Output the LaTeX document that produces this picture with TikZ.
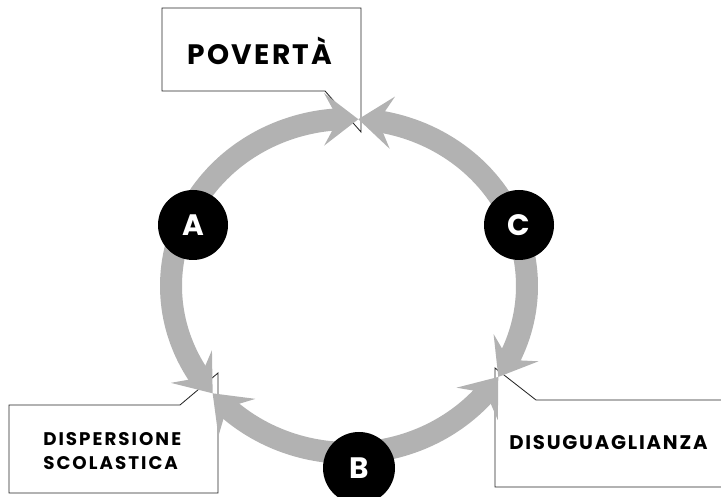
\documentclass[tikz,border=0pt]{standalone}
\usepackage{fontspec}
\setsansfont{Poppins}
\usepackage{tikz}
\usetikzlibrary{arrows.meta,bending}
\definecolor{bandgrau}{RGB}{178,178,178}

\begin{document}
\begin{tikzpicture}[>={Stealth[length=0.85cm,width=1.3cm,inset=0.35cm]},
    band/.style={->, line width=0.55cm, draw=bandgrau},
    buchstabe/.style={circle, fill=black, text=white, minimum size=1.75cm, inner sep=0pt, font=\sffamily\bfseries\fontsize{21}{21}\selectfont},
    blase/.style={draw=black!85, fill=white, line width=0.6pt},
    titel/.style={font=\sffamily\bfseries\fontsize{20}{20}\selectfont\addfontfeatures{LetterSpace=8}},
    klein/.style={font=\sffamily\bfseries\fontsize{13}{17.5}\selectfont\addfontfeatures{LetterSpace=11}, align=left, inner sep=0pt}]

    \useasboundingbox (0,0) rectangle (18.025,12.425);

    % Sprechblasen
    \draw[blase] (4.05,12.225) -- (9.025,12.225) -- (9.025,9.125) -- (8.125,10.15) -- (4.05,10.15) -- cycle;
    \draw[blase] (0.225,2.3) -- (4.5,2.3) -- (5.45,3.1) -- (5.45,0.1) -- (0.225,0.1) -- cycle;
    \draw[blase] (12.375,3.225) -- (13.4,2.425) -- (18.5,2.425) -- (18.5,0.25) -- (12.375,0.25) -- cycle;
    \node (poverta) at (6.5,11.15) [titel] {POVERTÀ};
    \node (dispersione) at (1.075,1.15) [klein, anchor=west] {DISPERSIONE\\SCOLASTICA};
    \node (disuguaglianza) at (12.725,1.35) [klein, anchor=west, font=\sffamily\bfseries\fontsize{14}{14}\selectfont\addfontfeatures{LetterSpace=9}] {DISUGUAGLIANZA};

    % Kreis (Mittelpunkt und Treffpunkte der Pfeile)
    \coordinate (M) at (8.725,5.275);
    \coordinate (oben) at ([shift={(87:4.45 and 4.175)}]M);
    \coordinate (links) at ([shift={(220:4.45 and 4.175)}]M);
    \coordinate (rechts) at ([shift={(327:4.45 and 4.175)}]M);

    % Pfeile
    \draw[band] ([shift={(157:4.45 and 4.175)}]M) arc[start angle=157, end angle=87, x radius=4.45, y radius=4.175];
    \draw[band] ([shift={(157:4.45 and 4.175)}]M) arc[start angle=157, end angle=220, x radius=4.45, y radius=4.175];
    \draw[band] ([shift={(20:4.45 and 4.175)}]M) arc[start angle=20, end angle=87, x radius=4.45, y radius=4.175];
    \draw[band] ([shift={(20:4.45 and 4.175)}]M) arc[start angle=20, end angle=-33, x radius=4.45, y radius=4.175];
    \draw[band] ([shift={(272:4.45 and 4.175)}]M) arc[start angle=272, end angle=220, x radius=4.45, y radius=4.175];
    \draw[band] ([shift={(272:4.45 and 4.175)}]M) arc[start angle=272, end angle=327, x radius=4.45, y radius=4.175];

    % Buchstaben
    \node (A) at (4.825,6.8) [buchstabe] {A};
    \node (C) at (12.975,6.8) [buchstabe] {C};
    \node (B) at (8.975,0.725) [buchstabe, minimum size=1.8cm] {B};

\end{tikzpicture}
\end{document}
